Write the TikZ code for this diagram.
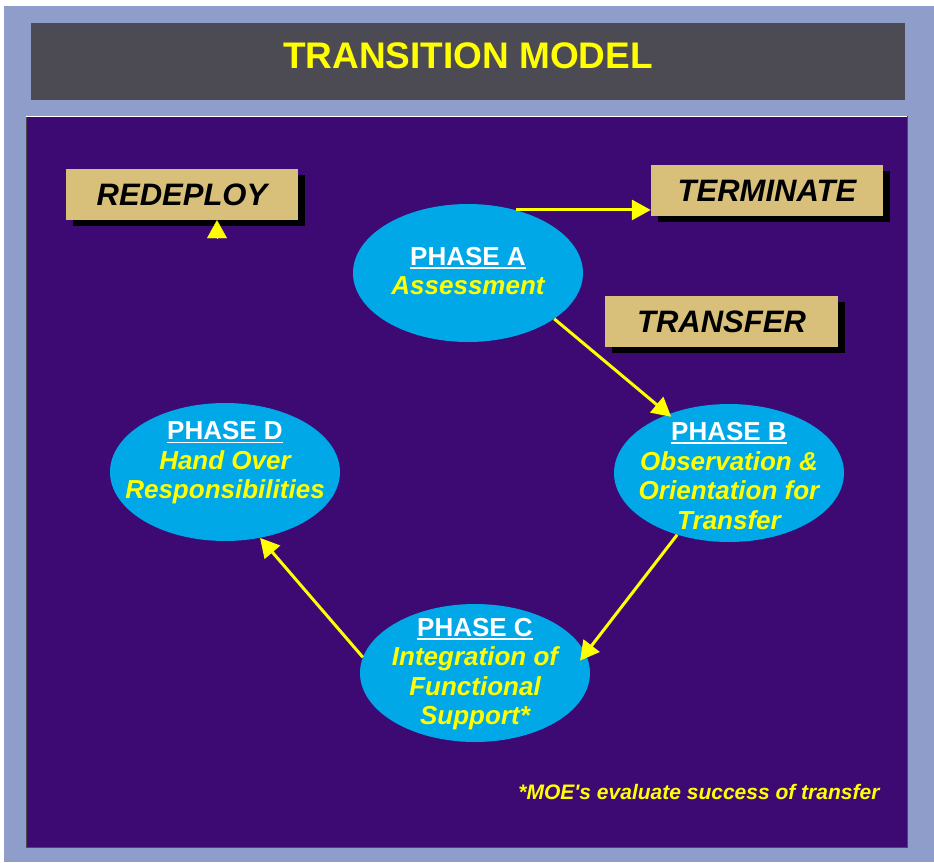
\documentclass[tikz,border=0pt]{standalone}
\usepackage{fontspec}
\setmainfont{Liberation Sans}
\newfontfamily\notefamily{Liberation Sans}
\usetikzlibrary{shapes.geometric,arrows.meta,shadows}
\definecolor{pageblue}{HTML}{8F9DCB}
\definecolor{titlegrey}{HTML}{4C4A52}
\definecolor{panelpurple}{HTML}{3C0A72}
\definecolor{phasecyan}{HTML}{00A8E8}
\definecolor{labeltan}{HTML}{D9C07A}
\definecolor{modelyellow}{HTML}{FFFF00}
\newcommand{\phasehead}[1]{\setbox0\hbox{#1}\leavevmode\rlap{\rule[-3.5pt]{\wd0}{1.8pt}}\box0}

\begin{document}
\begin{tikzpicture}[x=1pt,y=-1pt,
   phase/.style={ellipse,fill=phasecyan,minimum width=230pt,minimum height=138pt,inner sep=0pt},
   phasetext/.style={align=center,text=modelyellow,inner sep=0pt,
      font=\fontsize{26}{29.5}\selectfont\bfseries\itshape},
   tagbox/.style={fill=labeltan,minimum width=232pt,minimum height=51pt,inner sep=0pt,
      font=\fontsize{31}{34}\selectfont\bfseries\itshape},
   tagshadow/.style={drop shadow={shadow xshift=7pt,shadow yshift=-6pt,fill=black,opacity=1}},
   flow/.style={draw=modelyellow,line width=3pt,-{Triangle[length=19pt,width=20pt]}}]
   \useasboundingbox (0,0) rectangle (934,862);
   \fill[white] (0,0) rectangle (934,862);
   \fill[pageblue] (4,6) rectangle (934,862);
   % title bar
   \fill[titlegrey] (31,23) rectangle (905,100);
   \node[text=modelyellow,font=\fontsize{37}{40}\selectfont\bfseries] (title) at (468,56) {TRANSITION MODEL};
   % panel
   \fill[panelpurple] (26,116) rectangle (907,847);
   \draw[black!70,line width=0.8pt] (26,116) -- (26,847) -- (907,847) -- (907,116);
   \draw[white,line width=0.8pt] (26,116) -- (907,116);
   % outcome boxes
   \node[tagbox,tagshadow] (redeploy) at (182,194.5) {REDEPLOY};
   \node[tagbox,tagshadow] (term) at (767,190.5) {TERMINATE};
   \node[tagbox,tagshadow,minimum width=233pt] (transfer) at (721.5,321.5) {TRANSFER};
   % phases
   \node[phase] (A) at (468,273) {};
   \node[phase] (B) at (729,473) {};
   \node[phase] (C) at (475,673) {};
   \node[phase] (D) at (225,472) {};
   \node[phasetext] (Atext) at (468,271) {\textcolor{white}{\upshape\phasehead{PHASE A}}\\Assessment};
   \node[phasetext] (Btext) at (729,476) {\textcolor{white}{\upshape\phasehead{PHASE B}}\\Observation \&\\Orientation for\\Transfer};
   \node[phasetext] (Ctext) at (475,674) {\textcolor{white}{\upshape\phasehead{PHASE C}}\\Integration of\\Functional\\Support*};
   \node[phasetext] (Dtext) at (225,463) {\textcolor{white}{\upshape\phasehead{PHASE D}}\\Hand Over\\Responsibilities};
   % arrows
   \draw[flow] (A.53) -- (A.53 -| term.west);
   \draw[flow,shorten >=-4pt] (A.-28) -- (B.136);
   \draw[flow,shorten >=-9pt] (B.230) -- (C.10);
   \draw[flow] (C.172) -- (D.-62);
   \coordinate (redfoot) at (217,239);
   \draw[flow,line width=0.2pt,-{Triangle[length=18pt,width=20pt]}] (redfoot) -- (redfoot |- redeploy.south);
   % note
   \node[anchor=east,text=modelyellow,font=\notefamily\fontsize{21}{24}\selectfont\bfseries\itshape] (moe) at (883,792) {*MOE's evaluate success of transfer};
\end{tikzpicture}
\end{document}
